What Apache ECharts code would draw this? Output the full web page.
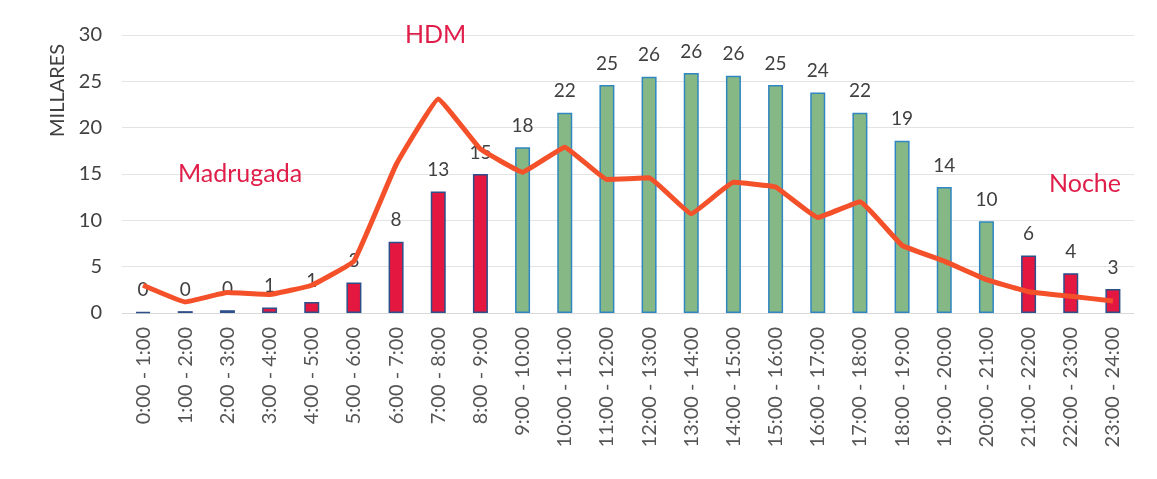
<!DOCTYPE html>
<html>
<head>
<meta charset="utf-8">
<script src="https://cdn.jsdelivr.net/npm/echarts@6/dist/echarts.min.js"></script>
<style>
    html, body { margin: 0; padding: 0; background: #fff; }
    #chart { width: 1157px; height: 479px; }
</style>
</head>
<body>
<div id="chart"></div>
<script>
// franjas horarias
var horas = ['0:00 - 1:00', '1:00 - 2:00', '2:00 - 3:00', '3:00 - 4:00', '4:00 - 5:00', '5:00 - 6:00',
    '6:00 - 7:00', '7:00 - 8:00', '8:00 - 9:00', '9:00 - 10:00', '10:00 - 11:00', '11:00 - 12:00',
    '12:00 - 13:00', '13:00 - 14:00', '14:00 - 15:00', '15:00 - 16:00', '16:00 - 17:00', '17:00 - 18:00',
    '18:00 - 19:00', '19:00 - 20:00', '20:00 - 21:00', '21:00 - 22:00', '22:00 - 23:00', '23:00 - 24:00'];
// barras (millares)
var barras = [0.1, 0.2, 0.3, 0.6, 1.2, 3.3, 7.7, 13.1, 15.0, 17.9, 21.6, 24.6,
    25.5, 25.9, 25.6, 24.6, 23.8, 21.6, 18.6, 13.6, 9.9, 6.2, 4.3, 2.6];
// periodo de cada franja: 'p' = punta, 'v' = valle
var periodo = ['p', 'p', 'p', 'p', 'p', 'p', 'p', 'p', 'p', 'v', 'v', 'v',
    'v', 'v', 'v', 'v', 'v', 'v', 'v', 'v', 'v', 'p', 'p', 'p'];
// linea
var linea = [3.0, 1.2, 2.2, 2.0, 3.0, 5.6, 16.0, 23.1, 17.7, 15.2, 17.9, 14.4,
    14.6, 10.7, 14.1, 13.6, 10.3, 12.0, 7.3, 5.6, 3.6, 2.3, 1.8, 1.3];
var yTicks = { min: 0, max: 30, interval: 5 };

var font = 'Lato, "Open Sans", sans-serif';
var chart = echarts.init(document.getElementById('chart'));

chart.setOption({
    animation: false,
    grid: { left: 122, right: 23, top: 35, bottom: 166, containLabel: false },
    xAxis: {
        type: 'category',
        data: horas,
        axisLine: { lineStyle: { color: '#d9d9d9' } },
        axisTick: { show: false },
        axisLabel: { rotate: 90, color: '#555', fontSize: 20, fontFamily: font, margin: 14, interval: 0 }
    },
    yAxis: {
        type: 'value',
        min: yTicks.min,
        max: yTicks.max,
        interval: yTicks.interval,
        axisLine: { show: false },
        axisTick: { show: false },
        axisLabel: { color: '#404040', fontSize: 20, fontFamily: font, margin: 20 },
        splitLine: { lineStyle: { color: '#e3e3e3' } }
    },
    series: [
        {
            type: 'bar',
            barWidth: 15,
            data: barras.map(function (v, i) {
                var verde = periodo[i] === 'v';
                return {
                    value: v,
                    itemStyle: {
                        color: verde ? '#86b885' : '#e3173f',
                        borderColor: verde ? '#2f86c0' : '#2d4f8a',
                        borderWidth: 1.5
                    }
                };
            }),
            label: {
                show: true,
                position: 'top',
                distance: 12,
                color: '#404040',
                fontSize: 19,
                fontFamily: font,
                formatter: function (p) { return Math.round(p.value); }
            },
            z: 2
        },
        {
            type: 'line',
            data: linea,
            smooth: 0.08,
            showSymbol: false,
            lineStyle: { color: '#f4502a', width: 5 },
            z: 3
        }
    ],
    graphic: [
        { type: 'text', z: 100, left: 178, top: 161, style: { text: 'Madrugada', fill: '#e01e4a', font: '25px ' + font } },
        { type: 'text', z: 100, left: 405, top: 22, style: { text: 'HDM', fill: '#e01e4a', font: '25px ' + font } },
        { type: 'text', z: 100, left: 1049, top: 171, style: { text: 'Noche', fill: '#e01e4a', font: '25px ' + font } },
        { type: 'text', z: 100, x: 48, y: 137, rotation: Math.PI / 2, style: { text: 'MILLARES', fill: '#404040', font: '20px ' + font } }
    ]
});
</script>
</body>
</html>
